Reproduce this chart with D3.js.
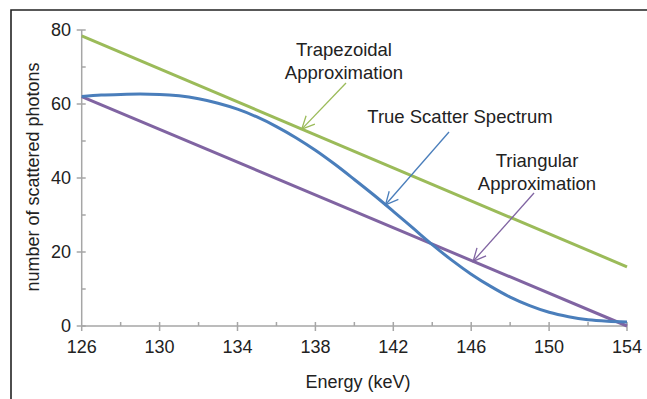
<!DOCTYPE html>
<html>
<head>
<meta charset="utf-8">
<script src="https://cdn.jsdelivr.net/npm/d3@7"></script>
<style>
  html, body { margin: 0; padding: 0; background: #fff; }
  svg text { font-family: "Liberation Sans", Arial, Helvetica, sans-serif; fill: #222; }
</style>
</head>
<body>
<div class="chart"></div>
<script>
// energy (keV) sampled along the true scatter curve
const energy = [126, 127, 128, 129, 130, 131, 132, 133, 134, 135, 136, 137, 138, 139, 140,
  141, 142, 143, 144, 145, 146, 147, 148, 149, 150, 151, 152, 153, 154];
const trueScatter = [62.0, 62.4, 62.6, 62.7, 62.6, 62.2, 61.4, 60.2, 58.6, 56.5, 53.9, 50.9, 47.5, 43.7, 39.6,
  35.4, 31.0, 26.5, 22.0, 17.8, 14.0, 10.7, 7.8, 5.5, 3.7, 2.5, 1.7, 1.3, 1.1];
// approximations: end points at 126 and 154 keV
const approxEnergy = [126, 154];
const trapezoidal = [78.4, 16.0];
const triangular = [62.0, 0.0];

const xTickLabels = [126, 130, 134, 138, 142, 146, 150, 154];
const xMinorTicks = [128, 132, 136, 140, 144, 148, 152];
const yTickLabels = [0, 20, 40, 60, 80];
const yMinorTicks = [10, 30, 50, 70];

const width = 647, height = 399;
const green = '#9bbb59', blue = '#4a7ebb', purple = '#8064a2', axisGray = '#a6a6a6';

const svg = d3.select('.chart')
  .append('svg')
  .attr('width', width)
  .attr('height', height);

// frame (top and left border only)
svg.append('path')
  .attr('d', 'M11,' + height + ' L11,10 L' + width + ',10')
  .attr('fill', 'none')
  .attr('stroke', '#222')
  .attr('stroke-width', 1.6);

const x = d3.scaleLinear().domain([126, 154]).range([81.7, 627]);
const y = d3.scaleLinear().domain([0, 80]).range([326, 30]);

const axes = svg.append('g').attr('stroke', axisGray).attr('stroke-width', 1.5);
axes.append('line')
  .attr('x1', x(126)).attr('x2', x(154))
  .attr('y1', y(0)).attr('y2', y(0));
axes.append('line')
  .attr('x1', x(126)).attr('x2', x(126))
  .attr('y1', y(0)).attr('y2', y(80));

axes.selectAll('.xmaj').data(xTickLabels).enter().append('line')
  .attr('x1', d => x(d)).attr('x2', d => x(d))
  .attr('y1', d => d === 126 ? y(0) : y(0) - 4).attr('y2', y(0) + 5);
axes.selectAll('.xmin').data(xMinorTicks).enter().append('line')
  .attr('x1', d => x(d)).attr('x2', d => x(d))
  .attr('y1', y(0) - 4).attr('y2', y(0));
axes.selectAll('.ymaj').data(yTickLabels).enter().append('line')
  .attr('x1', x(126) - 5).attr('x2', x(126) + 4)
  .attr('y1', d => y(d)).attr('y2', d => y(d));
axes.selectAll('.ymin').data(yMinorTicks).enter().append('line')
  .attr('x1', x(126)).attr('x2', x(126) + 4)
  .attr('y1', d => y(d)).attr('y2', d => y(d));

svg.selectAll('.xlab').data(xTickLabels).enter().append('text')
  .attr('x', d => x(d))
  .attr('y', 353)
  .attr('text-anchor', 'middle')
  .attr('font-size', 18)
  .text(d => d);
svg.selectAll('.ylab').data(yTickLabels).enter().append('text')
  .attr('x', 71)
  .attr('y', d => y(d))
  .attr('dy', '0.35em')
  .attr('text-anchor', 'end')
  .attr('font-size', 18)
  .text(d => d);

svg.append('text')
  .attr('x', 358)
  .attr('y', 388)
  .attr('text-anchor', 'middle')
  .attr('font-size', 18)
  .text('Energy (keV)');
svg.append('text')
  .attr('transform', 'translate(39,177) rotate(-90)')
  .attr('text-anchor', 'middle')
  .attr('font-size', 18)
  .text('number of scattered photons');

const line = d3.line()
  .x(d => x(d[0]))
  .y(d => y(d[1]));

svg.append('path')
  .datum(d3.zip(approxEnergy, trapezoidal))
  .attr('fill', 'none').attr('stroke', green).attr('stroke-width', 3)
  .attr('d', line);
svg.append('path')
  .datum(d3.zip(approxEnergy, triangular))
  .attr('fill', 'none').attr('stroke', purple).attr('stroke-width', 3)
  .attr('d', line);
svg.append('path')
  .datum(d3.zip(energy, trueScatter))
  .attr('fill', 'none').attr('stroke', blue).attr('stroke-width', 3)
  .attr('d', line.curve(d3.curveMonotoneX));

// annotations: label lines + arrow from start point to a point on the curve
function arrow(x1, y1, x2, y2, color) {
  const g = svg.append('g').attr('stroke', color).attr('stroke-width', 1.3).attr('fill', 'none');
  g.append('line').attr('x1', x1).attr('y1', y1).attr('x2', x2).attr('y2', y2);
  const a = Math.atan2(y1 - y2, x1 - x2);
  const len = 14, spread = 0.45;
  g.append('path')
    .attr('d', 'M' + (x2 + len * Math.cos(a - spread)) + ',' + (y2 + len * Math.sin(a - spread)) +
      ' L' + x2 + ',' + y2 +
      ' L' + (x2 + len * Math.cos(a + spread)) + ',' + (y2 + len * Math.sin(a + spread)));
}
const interp = (xs, ys, e) => d3.scaleLinear().domain(xs).range(ys)(e);

arrow(346, 83, x(137.3), y(interp(approxEnergy, trapezoidal, 137.3)), green);
arrow(449, 132, x(141.6), y(interp(energy, trueScatter, 141.6)), blue);
arrow(534, 193, x(146.1), y(interp(approxEnergy, triangular, 146.1)), purple);

function label(lines, cx, baseline) {
  lines.forEach((t, i) => {
    svg.append('text')
      .attr('x', cx)
      .attr('y', baseline + i * 22.5)
      .attr('text-anchor', 'middle')
      .attr('font-size', 18.5)
      .text(t);
  });
}
label(['Trapezoidal', 'Approximation'], 344, 56);
label(['True Scatter Spectrum'], 460, 123);
label(['Triangular', 'Approximation'], 537, 167);
</script>
</body>
</html>
